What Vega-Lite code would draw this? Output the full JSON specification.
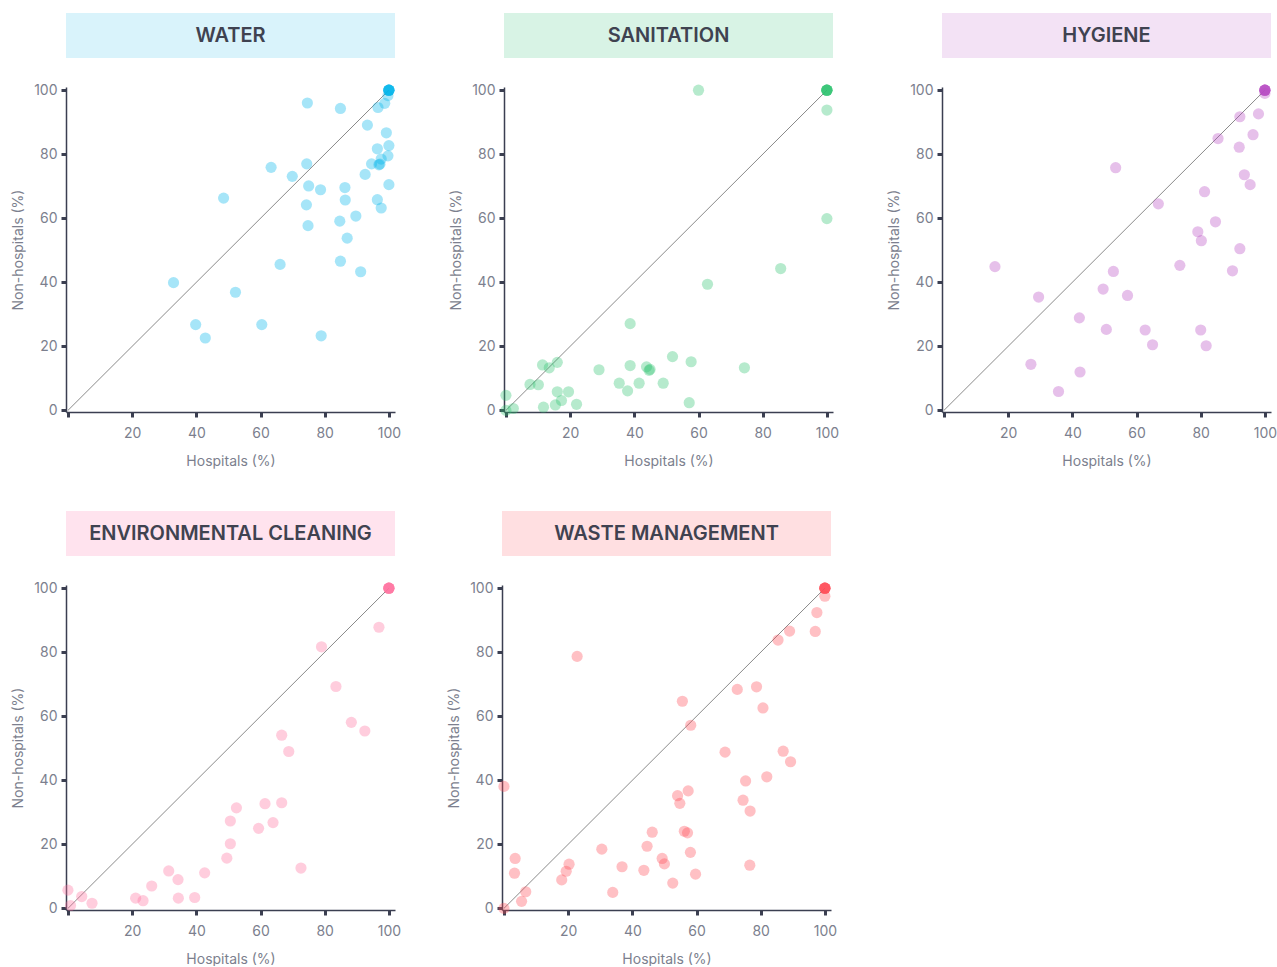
{
  "$schema": "https://vega.github.io/schema/vega-lite/v6.json",
  "padding": {"left": 11, "top": 13, "right": 0, "bottom": 0},
  "background": "#ffffff",
  "datasets": {
    "points": [
      {"cat":"WATER","hosp":100,"nonhosp":100},{"cat":"WATER","hosp":100,"nonhosp":100},{"cat":"WATER","hosp":100,"nonhosp":100},{"cat":"WATER","hosp":100,"nonhosp":100},{"cat":"WATER","hosp":100,"nonhosp":100},{"cat":"WATER","hosp":100,"nonhosp":100},
      {"cat":"WATER","hosp":74.6,"nonhosp":96.0},{"cat":"WATER","hosp":84.9,"nonhosp":94.3},{"cat":"WATER","hosp":93.3,"nonhosp":89.1},{"cat":"WATER","hosp":96.6,"nonhosp":94.6},{"cat":"WATER","hosp":98.7,"nonhosp":95.9},{"cat":"WATER","hosp":99.7,"nonhosp":98.3},{"cat":"WATER","hosp":99.2,"nonhosp":86.7},{"cat":"WATER","hosp":100,"nonhosp":82.7},{"cat":"WATER","hosp":96.4,"nonhosp":81.7},{"cat":"WATER","hosp":99.7,"nonhosp":79.5},{"cat":"WATER","hosp":97.6,"nonhosp":78.5},{"cat":"WATER","hosp":94.6,"nonhosp":77.0},{"cat":"WATER","hosp":96.9,"nonhosp":76.7},{"cat":"WATER","hosp":97.2,"nonhosp":76.9},{"cat":"WATER","hosp":92.6,"nonhosp":73.7},{"cat":"WATER","hosp":100,"nonhosp":70.5},{"cat":"WATER","hosp":96.4,"nonhosp":65.8},{"cat":"WATER","hosp":97.6,"nonhosp":63.2},{"cat":"WATER","hosp":86.3,"nonhosp":69.6},{"cat":"WATER","hosp":86.4,"nonhosp":65.7},{"cat":"WATER","hosp":89.7,"nonhosp":60.7},{"cat":"WATER","hosp":84.7,"nonhosp":59.1},{"cat":"WATER","hosp":87.0,"nonhosp":53.8},{"cat":"WATER","hosp":84.9,"nonhosp":46.6},{"cat":"WATER","hosp":91.2,"nonhosp":43.3},{"cat":"WATER","hosp":78.7,"nonhosp":68.9},{"cat":"WATER","hosp":74.4,"nonhosp":77.0},{"cat":"WATER","hosp":75.0,"nonhosp":70.1},{"cat":"WATER","hosp":74.3,"nonhosp":64.2},{"cat":"WATER","hosp":74.8,"nonhosp":57.7},{"cat":"WATER","hosp":69.9,"nonhosp":73.1},{"cat":"WATER","hosp":63.3,"nonhosp":75.9},{"cat":"WATER","hosp":66.1,"nonhosp":45.6},{"cat":"WATER","hosp":48.5,"nonhosp":66.3},{"cat":"WATER","hosp":32.9,"nonhosp":39.9},{"cat":"WATER","hosp":52.2,"nonhosp":36.9},{"cat":"WATER","hosp":39.8,"nonhosp":26.8},{"cat":"WATER","hosp":42.8,"nonhosp":22.6},{"cat":"WATER","hosp":60.4,"nonhosp":26.8},{"cat":"WATER","hosp":78.9,"nonhosp":23.3},
      {"cat":"SANITATION","hosp":100,"nonhosp":100},{"cat":"SANITATION","hosp":100,"nonhosp":100},{"cat":"SANITATION","hosp":100,"nonhosp":100},{"cat":"SANITATION","hosp":100,"nonhosp":100},{"cat":"SANITATION","hosp":100,"nonhosp":100},{"cat":"SANITATION","hosp":100,"nonhosp":100},
      {"cat":"SANITATION","hosp":60,"nonhosp":100},{"cat":"SANITATION","hosp":100,"nonhosp":93.8},{"cat":"SANITATION","hosp":100,"nonhosp":59.9},{"cat":"SANITATION","hosp":85.6,"nonhosp":44.3},{"cat":"SANITATION","hosp":62.8,"nonhosp":39.4},{"cat":"SANITATION","hosp":38.7,"nonhosp":27.1},{"cat":"SANITATION","hosp":51.9,"nonhosp":16.8},{"cat":"SANITATION","hosp":57.7,"nonhosp":15.2},{"cat":"SANITATION","hosp":74.3,"nonhosp":13.3},{"cat":"SANITATION","hosp":38.7,"nonhosp":14.0},{"cat":"SANITATION","hosp":43.8,"nonhosp":13.6},{"cat":"SANITATION","hosp":44.6,"nonhosp":12.5},{"cat":"SANITATION","hosp":44.9,"nonhosp":12.8},{"cat":"SANITATION","hosp":29.0,"nonhosp":12.7},{"cat":"SANITATION","hosp":35.3,"nonhosp":8.5},{"cat":"SANITATION","hosp":37.9,"nonhosp":6.1},{"cat":"SANITATION","hosp":41.5,"nonhosp":8.5},{"cat":"SANITATION","hosp":49.0,"nonhosp":8.5},{"cat":"SANITATION","hosp":57.1,"nonhosp":2.4},{"cat":"SANITATION","hosp":11.4,"nonhosp":14.2},{"cat":"SANITATION","hosp":13.5,"nonhosp":13.3},{"cat":"SANITATION","hosp":16.0,"nonhosp":15.0},{"cat":"SANITATION","hosp":7.5,"nonhosp":8.1},{"cat":"SANITATION","hosp":10.1,"nonhosp":8.0},{"cat":"SANITATION","hosp":16.0,"nonhosp":5.8},{"cat":"SANITATION","hosp":19.5,"nonhosp":5.8},{"cat":"SANITATION","hosp":17.3,"nonhosp":3.1},{"cat":"SANITATION","hosp":15.4,"nonhosp":1.7},{"cat":"SANITATION","hosp":11.7,"nonhosp":1.0},{"cat":"SANITATION","hosp":22.0,"nonhosp":1.9},{"cat":"SANITATION","hosp":0,"nonhosp":4.7},{"cat":"SANITATION","hosp":0,"nonhosp":0},{"cat":"SANITATION","hosp":2.3,"nonhosp":0.6},
      {"cat":"HYGIENE","hosp":100,"nonhosp":100},{"cat":"HYGIENE","hosp":100,"nonhosp":100},{"cat":"HYGIENE","hosp":100,"nonhosp":100},{"cat":"HYGIENE","hosp":100,"nonhosp":100},{"cat":"HYGIENE","hosp":100,"nonhosp":100},{"cat":"HYGIENE","hosp":100,"nonhosp":100},
      {"cat":"HYGIENE","hosp":100,"nonhosp":99},{"cat":"HYGIENE","hosp":98.0,"nonhosp":92.6},{"cat":"HYGIENE","hosp":92.2,"nonhosp":91.7},{"cat":"HYGIENE","hosp":96.3,"nonhosp":86.1},{"cat":"HYGIENE","hosp":85.4,"nonhosp":84.9},{"cat":"HYGIENE","hosp":92.0,"nonhosp":82.2},{"cat":"HYGIENE","hosp":93.6,"nonhosp":73.6},{"cat":"HYGIENE","hosp":95.4,"nonhosp":70.5},{"cat":"HYGIENE","hosp":53.5,"nonhosp":75.8},{"cat":"HYGIENE","hosp":81.2,"nonhosp":68.3},{"cat":"HYGIENE","hosp":66.8,"nonhosp":64.5},{"cat":"HYGIENE","hosp":84.6,"nonhosp":58.9},{"cat":"HYGIENE","hosp":79.1,"nonhosp":55.8},{"cat":"HYGIENE","hosp":80.2,"nonhosp":53.0},{"cat":"HYGIENE","hosp":92.2,"nonhosp":50.5},{"cat":"HYGIENE","hosp":73.5,"nonhosp":45.3},{"cat":"HYGIENE","hosp":89.9,"nonhosp":43.6},{"cat":"HYGIENE","hosp":15.9,"nonhosp":44.9},{"cat":"HYGIENE","hosp":52.8,"nonhosp":43.4},{"cat":"HYGIENE","hosp":49.6,"nonhosp":37.9},{"cat":"HYGIENE","hosp":57.2,"nonhosp":35.9},{"cat":"HYGIENE","hosp":29.5,"nonhosp":35.4},{"cat":"HYGIENE","hosp":42.2,"nonhosp":28.9},{"cat":"HYGIENE","hosp":50.6,"nonhosp":25.3},{"cat":"HYGIENE","hosp":62.7,"nonhosp":25.1},{"cat":"HYGIENE","hosp":80.0,"nonhosp":25.1},{"cat":"HYGIENE","hosp":65.0,"nonhosp":20.5},{"cat":"HYGIENE","hosp":81.7,"nonhosp":20.2},{"cat":"HYGIENE","hosp":27.1,"nonhosp":14.4},{"cat":"HYGIENE","hosp":42.4,"nonhosp":12.0},{"cat":"HYGIENE","hosp":35.7,"nonhosp":5.9},
      {"cat":"ENVIRONMENTAL CLEANING","hosp":100,"nonhosp":100},{"cat":"ENVIRONMENTAL CLEANING","hosp":100,"nonhosp":100},{"cat":"ENVIRONMENTAL CLEANING","hosp":100,"nonhosp":100},{"cat":"ENVIRONMENTAL CLEANING","hosp":100,"nonhosp":100},{"cat":"ENVIRONMENTAL CLEANING","hosp":100,"nonhosp":100},{"cat":"ENVIRONMENTAL CLEANING","hosp":100,"nonhosp":100},
      {"cat":"ENVIRONMENTAL CLEANING","hosp":96.9,"nonhosp":87.8},{"cat":"ENVIRONMENTAL CLEANING","hosp":79.0,"nonhosp":81.7},{"cat":"ENVIRONMENTAL CLEANING","hosp":83.5,"nonhosp":69.3},{"cat":"ENVIRONMENTAL CLEANING","hosp":88.3,"nonhosp":58.1},{"cat":"ENVIRONMENTAL CLEANING","hosp":92.5,"nonhosp":55.4},{"cat":"ENVIRONMENTAL CLEANING","hosp":66.6,"nonhosp":54.1},{"cat":"ENVIRONMENTAL CLEANING","hosp":68.8,"nonhosp":49.0},{"cat":"ENVIRONMENTAL CLEANING","hosp":52.5,"nonhosp":31.4},{"cat":"ENVIRONMENTAL CLEANING","hosp":61.4,"nonhosp":32.7},{"cat":"ENVIRONMENTAL CLEANING","hosp":66.6,"nonhosp":33.0},{"cat":"ENVIRONMENTAL CLEANING","hosp":50.6,"nonhosp":27.3},{"cat":"ENVIRONMENTAL CLEANING","hosp":63.9,"nonhosp":26.8},{"cat":"ENVIRONMENTAL CLEANING","hosp":59.4,"nonhosp":25.0},{"cat":"ENVIRONMENTAL CLEANING","hosp":50.6,"nonhosp":20.2},{"cat":"ENVIRONMENTAL CLEANING","hosp":49.5,"nonhosp":15.7},{"cat":"ENVIRONMENTAL CLEANING","hosp":72.6,"nonhosp":12.6},{"cat":"ENVIRONMENTAL CLEANING","hosp":42.6,"nonhosp":11.1},{"cat":"ENVIRONMENTAL CLEANING","hosp":31.4,"nonhosp":11.7},{"cat":"ENVIRONMENTAL CLEANING","hosp":34.3,"nonhosp":9.0},{"cat":"ENVIRONMENTAL CLEANING","hosp":26.1,"nonhosp":7.0},{"cat":"ENVIRONMENTAL CLEANING","hosp":21.1,"nonhosp":3.2},{"cat":"ENVIRONMENTAL CLEANING","hosp":23.4,"nonhosp":2.4},{"cat":"ENVIRONMENTAL CLEANING","hosp":34.4,"nonhosp":3.2},{"cat":"ENVIRONMENTAL CLEANING","hosp":39.5,"nonhosp":3.4},{"cat":"ENVIRONMENTAL CLEANING","hosp":0,"nonhosp":5.7},{"cat":"ENVIRONMENTAL CLEANING","hosp":0.8,"nonhosp":0.9},{"cat":"ENVIRONMENTAL CLEANING","hosp":4.3,"nonhosp":3.7},{"cat":"ENVIRONMENTAL CLEANING","hosp":7.5,"nonhosp":1.6},
      {"cat":"WASTE MANAGEMENT","hosp":100,"nonhosp":100},{"cat":"WASTE MANAGEMENT","hosp":100,"nonhosp":100},{"cat":"WASTE MANAGEMENT","hosp":100,"nonhosp":100},{"cat":"WASTE MANAGEMENT","hosp":100,"nonhosp":100},{"cat":"WASTE MANAGEMENT","hosp":100,"nonhosp":100},{"cat":"WASTE MANAGEMENT","hosp":100,"nonhosp":100},
      {"cat":"WASTE MANAGEMENT","hosp":100,"nonhosp":97.5},{"cat":"WASTE MANAGEMENT","hosp":97.5,"nonhosp":92.4},{"cat":"WASTE MANAGEMENT","hosp":97.0,"nonhosp":86.5},{"cat":"WASTE MANAGEMENT","hosp":89.0,"nonhosp":86.6},{"cat":"WASTE MANAGEMENT","hosp":85.4,"nonhosp":83.8},{"cat":"WASTE MANAGEMENT","hosp":22.8,"nonhosp":78.7},{"cat":"WASTE MANAGEMENT","hosp":78.7,"nonhosp":69.2},{"cat":"WASTE MANAGEMENT","hosp":72.7,"nonhosp":68.4},{"cat":"WASTE MANAGEMENT","hosp":55.6,"nonhosp":64.7},{"cat":"WASTE MANAGEMENT","hosp":80.7,"nonhosp":62.6},{"cat":"WASTE MANAGEMENT","hosp":58.2,"nonhosp":57.2},{"cat":"WASTE MANAGEMENT","hosp":68.9,"nonhosp":48.8},{"cat":"WASTE MANAGEMENT","hosp":87.0,"nonhosp":49.1},{"cat":"WASTE MANAGEMENT","hosp":89.3,"nonhosp":45.8},{"cat":"WASTE MANAGEMENT","hosp":81.9,"nonhosp":41.1},{"cat":"WASTE MANAGEMENT","hosp":75.3,"nonhosp":39.8},{"cat":"WASTE MANAGEMENT","hosp":0,"nonhosp":38.1},{"cat":"WASTE MANAGEMENT","hosp":57.4,"nonhosp":36.7},{"cat":"WASTE MANAGEMENT","hosp":54.1,"nonhosp":35.2},{"cat":"WASTE MANAGEMENT","hosp":54.8,"nonhosp":32.8},{"cat":"WASTE MANAGEMENT","hosp":74.5,"nonhosp":33.8},{"cat":"WASTE MANAGEMENT","hosp":76.7,"nonhosp":30.4},{"cat":"WASTE MANAGEMENT","hosp":46.2,"nonhosp":23.8},{"cat":"WASTE MANAGEMENT","hosp":56.2,"nonhosp":24.1},{"cat":"WASTE MANAGEMENT","hosp":57.2,"nonhosp":23.6},{"cat":"WASTE MANAGEMENT","hosp":44.6,"nonhosp":19.4},{"cat":"WASTE MANAGEMENT","hosp":30.5,"nonhosp":18.5},{"cat":"WASTE MANAGEMENT","hosp":58.1,"nonhosp":17.5},{"cat":"WASTE MANAGEMENT","hosp":49.3,"nonhosp":15.6},{"cat":"WASTE MANAGEMENT","hosp":50.0,"nonhosp":13.9},{"cat":"WASTE MANAGEMENT","hosp":20.3,"nonhosp":13.8},{"cat":"WASTE MANAGEMENT","hosp":19.4,"nonhosp":11.6},{"cat":"WASTE MANAGEMENT","hosp":18.0,"nonhosp":8.9},{"cat":"WASTE MANAGEMENT","hosp":36.8,"nonhosp":13.0},{"cat":"WASTE MANAGEMENT","hosp":43.6,"nonhosp":11.9},{"cat":"WASTE MANAGEMENT","hosp":76.6,"nonhosp":13.5},{"cat":"WASTE MANAGEMENT","hosp":59.7,"nonhosp":10.7},{"cat":"WASTE MANAGEMENT","hosp":52.6,"nonhosp":7.9},{"cat":"WASTE MANAGEMENT","hosp":33.9,"nonhosp":5.0},{"cat":"WASTE MANAGEMENT","hosp":3.5,"nonhosp":15.6},{"cat":"WASTE MANAGEMENT","hosp":3.3,"nonhosp":11.0},{"cat":"WASTE MANAGEMENT","hosp":6.8,"nonhosp":5.2},{"cat":"WASTE MANAGEMENT","hosp":5.5,"nonhosp":2.2},{"cat":"WASTE MANAGEMENT","hosp":0,"nonhosp":0}
    ]
  },
  "spacing": 43,
  "vconcat": [
    {
      "spacing": 48,
      "hconcat": [
        {
          "spacing": 29, "bounds": "flush",
          "vconcat": [
            {"width": 329, "height": 45, "data": {"values": [{"label": "WATER"}]},
             "layer": [
               {"mark": {"type": "rect", "color": "#d9f3fb"}, "encoding": {}},
               {"mark": {"type": "text", "fontSize": 20, "fontWeight": 600, "color": "#3f4250"}, "encoding": {"text": {"field": "label"}}}
             ]},
            {"width": 329, "height": 325,
             "encoding": {
               "x": {"field": "hosp", "type": "quantitative", "title": "Hospitals (%)", "scale": {"domain": [-0.6, 101.9], "nice": false, "zero": false}, "axis": {"values": [0,20,40,60,80,100], "labelExpr": "datum.value == 0 ? '' : datum.label"}},
               "y": {"field": "nonhosp", "type": "quantitative", "title": "Non-hospitals (%)", "scale": {"domain": [-0.5, 101], "nice": false, "zero": false}, "axis": {"values": [0,20,40,60,80,100]}}
             },
             "layer": [
               {"data": {"values": [{"hosp": 0, "nonhosp": 0, "hosp2": 100, "nonhosp2": 100}]}, "mark": {"type": "rule", "color": "#8a8a8a", "strokeWidth": 1}, "encoding": {"x2": {"field": "hosp2"}, "y2": {"field": "nonhosp2"}}},
               {"data": {"name": "points"}, "transform": [{"filter": "datum.cat === 'WATER'"}], "mark": {"type": "circle", "size": 125, "opacity": 0.35, "color": "#00b5ea"}}
             ]}
          ]
        },
        {
          "spacing": 29, "bounds": "flush",
          "vconcat": [
            {"width": 329, "height": 45, "data": {"values": [{"label": "SANITATION"}]},
             "layer": [
               {"mark": {"type": "rect", "color": "#d8f3e5"}, "encoding": {}},
               {"mark": {"type": "text", "fontSize": 20, "fontWeight": 600, "color": "#3f4250"}, "encoding": {"text": {"field": "label"}}}
             ]},
            {"width": 329, "height": 325,
             "encoding": {
               "x": {"field": "hosp", "type": "quantitative", "title": "Hospitals (%)", "scale": {"domain": [-0.6, 101.9], "nice": false, "zero": false}, "axis": {"values": [0,20,40,60,80,100], "labelExpr": "datum.value == 0 ? '' : datum.label"}},
               "y": {"field": "nonhosp", "type": "quantitative", "title": "Non-hospitals (%)", "scale": {"domain": [-0.5, 101], "nice": false, "zero": false}, "axis": {"values": [0,20,40,60,80,100]}}
             },
             "layer": [
               {"data": {"values": [{"hosp": 0, "nonhosp": 0, "hosp2": 100, "nonhosp2": 100}]}, "mark": {"type": "rule", "color": "#8a8a8a", "strokeWidth": 1}, "encoding": {"x2": {"field": "hosp2"}, "y2": {"field": "nonhosp2"}}},
               {"data": {"name": "points"}, "transform": [{"filter": "datum.cat === 'SANITATION'"}], "mark": {"type": "circle", "size": 125, "opacity": 0.35, "color": "#2fc46f"}}
             ]}
          ]
        },
        {
          "spacing": 29, "bounds": "flush",
          "vconcat": [
            {"width": 329, "height": 45, "data": {"values": [{"label": "HYGIENE"}]},
             "layer": [
               {"mark": {"type": "rect", "color": "#f3e2f5"}, "encoding": {}},
               {"mark": {"type": "text", "fontSize": 20, "fontWeight": 600, "color": "#3f4250"}, "encoding": {"text": {"field": "label"}}}
             ]},
            {"width": 329, "height": 325,
             "encoding": {
               "x": {"field": "hosp", "type": "quantitative", "title": "Hospitals (%)", "scale": {"domain": [-0.6, 101.9], "nice": false, "zero": false}, "axis": {"values": [0,20,40,60,80,100], "labelExpr": "datum.value == 0 ? '' : datum.label"}},
               "y": {"field": "nonhosp", "type": "quantitative", "title": "Non-hospitals (%)", "scale": {"domain": [-0.5, 101], "nice": false, "zero": false}, "axis": {"values": [0,20,40,60,80,100]}}
             },
             "layer": [
               {"data": {"values": [{"hosp": 0, "nonhosp": 0, "hosp2": 100, "nonhosp2": 100}]}, "mark": {"type": "rule", "color": "#8a8a8a", "strokeWidth": 1}, "encoding": {"x2": {"field": "hosp2"}, "y2": {"field": "nonhosp2"}}},
               {"data": {"name": "points"}, "transform": [{"filter": "datum.cat === 'HYGIENE'"}], "mark": {"type": "circle", "size": 125, "opacity": 0.35, "color": "#b64bc2"}}
             ]}
          ]
        }
      ]
    },
    {
      "spacing": 46,
      "hconcat": [
        {
          "spacing": 29, "bounds": "flush",
          "vconcat": [
            {"width": 329, "height": 45, "data": {"values": [{"label": "ENVIRONMENTAL CLEANING"}]},
             "layer": [
               {"mark": {"type": "rect", "color": "#ffe3ee"}, "encoding": {}},
               {"mark": {"type": "text", "fontSize": 20, "fontWeight": 600, "color": "#3f4250"}, "encoding": {"text": {"field": "label"}}}
             ]},
            {"width": 329, "height": 325,
             "encoding": {
               "x": {"field": "hosp", "type": "quantitative", "title": "Hospitals (%)", "scale": {"domain": [-0.6, 101.9], "nice": false, "zero": false}, "axis": {"values": [0,20,40,60,80,100], "labelExpr": "datum.value == 0 ? '' : datum.label"}},
               "y": {"field": "nonhosp", "type": "quantitative", "title": "Non-hospitals (%)", "scale": {"domain": [-0.5, 101], "nice": false, "zero": false}, "axis": {"values": [0,20,40,60,80,100]}}
             },
             "layer": [
               {"data": {"values": [{"hosp": 0, "nonhosp": 0, "hosp2": 100, "nonhosp2": 100}]}, "mark": {"type": "rule", "color": "#8a8a8a", "strokeWidth": 1}, "encoding": {"x2": {"field": "hosp2"}, "y2": {"field": "nonhosp2"}}},
               {"data": {"name": "points"}, "transform": [{"filter": "datum.cat === 'ENVIRONMENTAL CLEANING'"}], "mark": {"type": "circle", "size": 125, "opacity": 0.35, "color": "#ff6f9f"}}
             ]}
          ]
        },
        {
          "spacing": 29, "bounds": "flush",
          "vconcat": [
            {"width": 329, "height": 45, "data": {"values": [{"label": "WASTE MANAGEMENT"}]},
             "layer": [
               {"mark": {"type": "rect", "color": "#ffdfe1"}, "encoding": {}},
               {"mark": {"type": "text", "fontSize": 20, "fontWeight": 600, "color": "#3f4250"}, "encoding": {"text": {"field": "label"}}}
             ]},
            {"width": 329, "height": 325,
             "encoding": {
               "x": {"field": "hosp", "type": "quantitative", "title": "Hospitals (%)", "scale": {"domain": [-0.6, 101.9], "nice": false, "zero": false}, "axis": {"values": [0,20,40,60,80,100], "labelExpr": "datum.value == 0 ? '' : datum.label"}},
               "y": {"field": "nonhosp", "type": "quantitative", "title": "Non-hospitals (%)", "scale": {"domain": [-0.5, 101], "nice": false, "zero": false}, "axis": {"values": [0,20,40,60,80,100]}}
             },
             "layer": [
               {"data": {"values": [{"hosp": 0, "nonhosp": 0, "hosp2": 100, "nonhosp2": 100}]}, "mark": {"type": "rule", "color": "#8a8a8a", "strokeWidth": 1}, "encoding": {"x2": {"field": "hosp2"}, "y2": {"field": "nonhosp2"}}},
               {"data": {"name": "points"}, "transform": [{"filter": "datum.cat === 'WASTE MANAGEMENT'"}], "mark": {"type": "circle", "size": 125, "opacity": 0.35, "color": "#ff4a55"}}
             ]}
          ]
        }
      ]
    }
  ],
  "config": {
    "font": "Inter",
    "view": {"stroke": null},
    "axis": {
      "grid": false,
      "domainColor": "#3b3f51",
      "domainWidth": 1.5,
      "tickColor": "#3b3f51",
      "tickWidth": 3,
      "tickSize": 5,
      "labelColor": "#7c7f8e",
      "labelFontSize": 14,
      "labelFont": "Inter",
      "titleColor": "#7c7f8e",
      "titleFontSize": 14,
      "titleFontWeight": "normal",
      "titleFont": "Inter"
    },
    "axisX": {"labelPadding": 9, "titlePadding": 14},
    "axisY": {"labelPadding": 4, "titlePadding": 8}
  }
}
